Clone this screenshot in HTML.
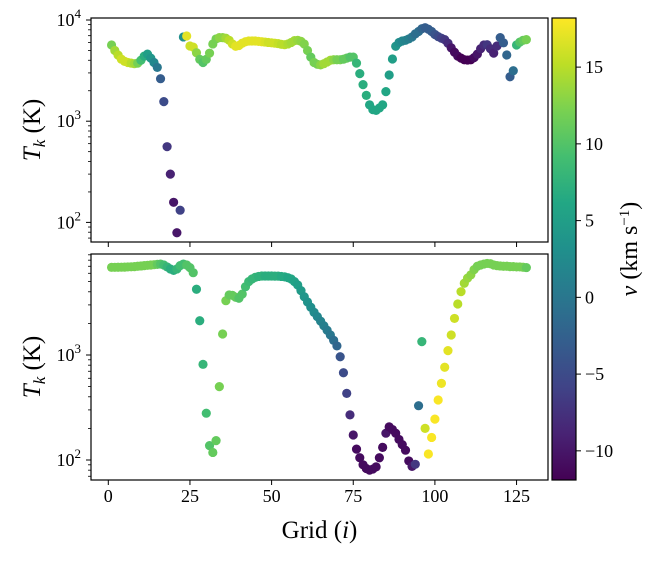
<!DOCTYPE html>
<html><head><meta charset="utf-8"><style>
body{margin:0;background:#fff;}
svg text{font-family:"Liberation Serif",serif;fill:#000;}
</style></head><body>
<svg id="chart" width="655" height="558" xmlns="http://www.w3.org/2000/svg">
<defs><linearGradient id="cbgrad" x1="0" y1="1" x2="0" y2="0"></linearGradient></defs>
<g id="top"></g>
<g id="bot"></g>
<g id="cb"></g>
</svg>
<script>
const topT=[5660,5000,4500,4100,3900,3800,3750,3700,3750,4000,4400,4600,4200,3800,3400,2630,1560,560,300,158,79,132,6800,6950,5530,5400,4750,4080,3800,4080,4700,5800,6500,6700,6700,6600,6300,5800,5500,5600,5900,6100,6200,6200,6200,6150,6100,6050,6000,5950,5900,5850,5750,5700,5800,6000,6250,6300,6150,5800,5000,4300,3800,3650,3600,3700,3850,4000,4050,4050,4050,4100,4200,4300,4300,3750,2950,2300,1800,1450,1300,1280,1350,1450,1960,2860,4120,5500,6000,6200,6300,6500,6800,7300,7700,8200,8400,8100,7700,7200,6850,6600,6400,5900,5300,4800,4400,4200,4050,4020,4050,4250,4600,5200,5660,5700,5200,4700,5530,6700,5950,4510,2750,3150,5660,6050,6300,6400];
const topV=[12,14,15,16,16,16,15,14,12,9,7,5,4,2,0,-3,-5,-7,-9,-10,-10,-6,3,17,16,16,13,11,10,11,12,12,12,13,13,14,15,16,17,17,17,17,17,17,17,17,17,16.5,16,16,16,15.5,15,15,14.5,14,14,13.5,13,12.5,12,11,12,12,13,14,14,14,13,12,12,11,11,10,10,8,7,7,7,6,6,6,6,6,6,5,5,4,3,2,1.5,1,0,-1,-1,-2,-3,-3,-3,-4,-5,-6,-7,-8,-10,-11,-11,-12,-12,-12,-12,-11,-10,-9,-8,-7,-8,-9,-8,-3,-3,-2,-3,-1,8,10,11,12];
const botT=[6840,6840,6850,6860,6870,6900,6920,6950,7000,7050,7100,7150,7200,7250,7300,7350,7200,6900,6600,6400,6600,7100,7350,7200,6800,6080,4230,2120,815,279,137,118,153,500,1585,3290,3730,3700,3550,3470,3800,4470,5000,5300,5490,5600,5650,5650,5650,5650,5640,5640,5600,5550,5450,5300,5000,4640,4100,3590,3200,2850,2550,2320,2100,1900,1720,1550,1380,1220,963,678,431,269,173,127,105,90,83,80,82,86,105,132,180,207,195,180,157,140,124,98,87,91,329,1340,200,114,164,245,373,537,764,1100,1550,2230,3060,4010,4820,5400,5800,6500,7000,7200,7350,7450,7400,7200,7100,7050,7000,7000,6950,6950,6900,6900,6850,6800];
const botV=[12,12,12,12,12,12,12,12,12,12,12,12,12,12,11,10,9,8,7,7,8,9,9,10,10,10,7,7,8,9,10,11,11,12,12,12,11,11,11,10,10,9,8.5,8,8,7.5,7.5,7,7,7,7,7,6.5,6.5,6,6,5.5,5,4.5,4,3.5,3,2.5,2,1.5,1,0.5,0,-1,-2,-4,-5,-6,-8,-10,-11,-11,-11,-11,-11,-11,-11,-11,-11,-10,-11,-11,-11,-11,-11,-11,-11,-10,-7,-1,8,16,18,18,18,18,17.5,17,17,16,16,15,15,14,13.5,13,12.5,12,12,12,12,12,12,12,12,12,12,12,12,12,12,12,11];
const xTicks=[0,25,50,75,100,125];
const cbTicks=[15,10,5,0,-5,-10];
const topDecades=[2,3,4];
const botDecades=[2,3];

const NS="http://www.w3.org/2000/svg";
function mk(tag,attrs,parent){const e=document.createElementNS(NS,tag);for(const k in attrs)e.setAttribute(k,attrs[k]);parent.appendChild(e);return e;}
const VMIN=-11.9,VMAX=18.2;
const vir=[[68,1,84],[72,35,116],[64,67,135],[52,94,141],[41,120,142],[32,144,140],[34,167,132],[68,190,112],[121,209,81],[189,222,38],[253,231,37]];
function cmap(v){if(typeof v!=='number'||isNaN(v))v=0;let t=Math.max(0,Math.min(1,(v-VMIN)/(VMAX-VMIN)))*(vir.length-1);const i=Math.min(Math.floor(t),vir.length-2),f=t-i;const a=vir[i],b=vir[i+1];return `rgb(${Math.round(a[0]+(b[0]-a[0])*f)},${Math.round(a[1]+(b[1]-a[1])*f)},${Math.round(a[2]+(b[2]-a[2])*f)})`;}
const X0=91,X1=548;
const xs=i=>108.3+i*3.266;
function panel(g,T,V,y0,y1,yf,decades,showX){
  for(let k=0;k<T.length;k++){
    const c=mk('circle',{cx:xs(k+1),cy:yf(T[k]),r:4.6,fill:cmap(V[k])},g);
    
    
  }
  const fr=mk('rect',{x:X0,y:y0,width:X1-X0,height:y1-y0,fill:'none',stroke:'#000','stroke-width':1.2},g);
  
  
  xTicks.forEach(t=>{
    const tk=mk('line',{x1:xs(t),x2:xs(t),y1:y1,y2:y1+5,stroke:'#000','stroke-width':1},g);
    
    
    if(showX){const tx=mk('text',{x:xs(t),y:y1+22,'text-anchor':'middle','font-size':18},g);tx.textContent=t;
      
      }
  });
  for(let d=1;d<=4;d++){for(let m=1;m<10;m++){const y=yf(m*Math.pow(10,d));if(y<y0-0.5||y>y1+0.5)continue;
    const l=mk('line',{x1:X0,x2:X0-(m==1?5:3),y1:y,y2:y,stroke:'#000','stroke-width':m==1?1:0.8},g);
    
    }}
  decades.forEach(d=>{const y=yf(Math.pow(10,d));
    const tx=mk('text',{x:X0-10,y:y+6,'text-anchor':'end','font-size':18},g);
    
    
    tx.innerHTML='10<tspan dy="-8" font-size="13">'+d+'</tspan>';});
  const yl=mk('text',{transform:`translate(40,${(y0+y1)/2}) rotate(-90)`,'text-anchor':'middle','font-size':25},g);
  
  
  yl.innerHTML='<tspan font-style="italic">T</tspan><tspan font-style="italic" font-size="17" dy="5">k</tspan><tspan dy="-5"> (K)</tspan>';
}
panel(document.getElementById('top'),topT,topV,18,242,T=>20+(4-Math.log10(T))*101.2,topDecades,false);
panel(document.getElementById('bot'),botT,botV,254,480,T=>355+(3-Math.log10(T))*105,botDecades,true);
const svg=document.getElementById('chart');
const xl=mk('text',{x:(X0+X1)/2,y:538,'text-anchor':'middle','font-size':25},svg);


xl.innerHTML='Grid (<tspan font-style="italic">i</tspan>)';
const grad=document.getElementById('cbgrad');
vir.forEach((c,i)=>mk('stop',{offset:(i/(vir.length-1)),'stop-color':`rgb(${c})`},grad));
const cb=document.getElementById('cb');
const CY0=18,CY1=480,cy=v=>CY1-(v-VMIN)/(VMAX-VMIN)*(CY1-CY0);
mk('rect',{x:552,y:CY0,width:24,height:CY1-CY0,fill:'url(#cbgrad)',stroke:'#000','stroke-width':1.2},cb);
cbTicks.forEach(t=>{
  const l=mk('line',{x1:576,x2:581,y1:cy(t),y2:cy(t),stroke:'#000'},cb);
  
  
  const tx=mk('text',{x:585,y:cy(t)+6,'font-size':18},cb);
  
  
  tx.textContent=t<0?'\u2212'+(-t):t;
});
const cl=mk('text',{transform:`translate(637,${(CY0+CY1)/2}) rotate(-90)`,'text-anchor':'middle','font-size':24},cb);


cl.innerHTML='<tspan font-style="italic">v</tspan> (km s<tspan dy="-8" font-size="15">\u22121</tspan><tspan dy="8">)</tspan>';
</script>
</body></html>
